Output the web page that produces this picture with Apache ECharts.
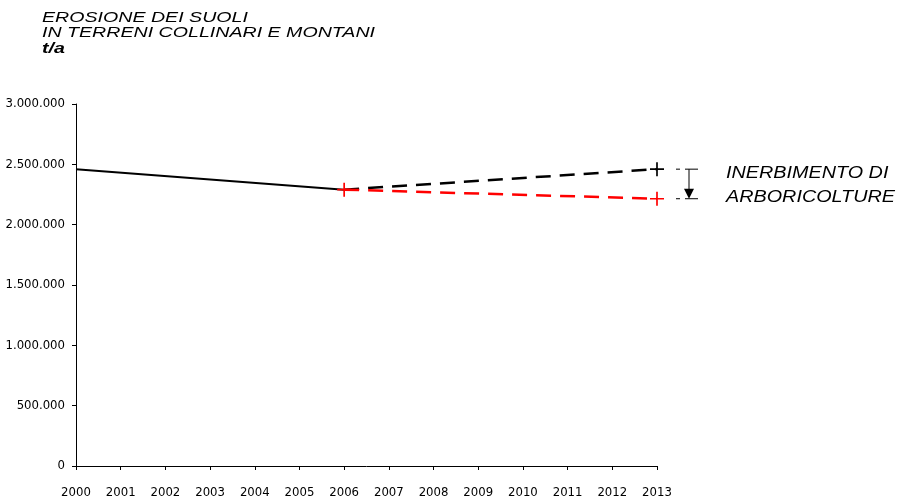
<!DOCTYPE html>
<html>
<head>
<meta charset="utf-8">
<script src="https://cdn.jsdelivr.net/npm/echarts@6/dist/echarts.min.js"></script>
<style>
  html, body { margin: 0; padding: 0; background: #fff; }
  #chart { width: 898px; height: 500px; }
</style>
</head>
<body>
<div id="chart"></div>
<script>
// Anni sull'asse orizzontale
const anni = ['2000', '2001', '2002', '2003', '2004', '2005', '2006',
              '2007', '2008', '2009', '2010', '2011', '2012', '2013'];

// Erosione storica (t/a), tratto continuo 2000-2006
const erosioneStorica = [2460000, null, null, null, null, null, 2290000,
                         null, null, null, null, null, null, null];

// Scenario senza interventi, tratteggio nero 2006-2013
const scenarioTendenziale = [null, null, null, null, null, null, 2290000,
                             null, null, null, null, null, null, 2460000];

// Scenario con inerbimento delle arboricolture, tratteggio rosso 2006-2013
const scenarioInerbimento = [null, null, null, null, null, null, 2290000,
                             null, null, null, null, null, null, 2215000];

// Etichette e testi
const titoloRighe = ['EROSIONE DEI SUOLI', 'IN TERRENI COLLINARI E MONTANI', 't/a'];
const notaRighe = ['INERBIMENTO DI', 'ARBORICOLTURE'];

const crocetta = 'path://M4.4,0 h1.2 v10 h-1.2 z M0,4.4 h10 v1.2 h-10 z';
const fontAssi = '"DejaVu Sans Condensed", "Liberation Sans Narrow", "Liberation Sans", sans-serif';
const fontTesti = '"Liberation Sans", Arial, sans-serif';

function migliaia(v) {
  return String(Math.round(v)).replace(/\B(?=(\d{3})+(?!\d))/g, '.');
}

// Larghezza naturale di un testo, per allargarlo alla misura voluta
const misuratore = document.createElement('canvas').getContext('2d');
function larghezza(testo, font) {
  misuratore.font = font;
  return misuratore.measureText(testo).width;
}

const chart = echarts.init(document.getElementById('chart'));

chart.setOption({
  backgroundColor: '#ffffff',
  animation: false,
  grid: { left: 76, right: 241, top: 104, bottom: 34, containLabel: false, outerBoundsMode: 'none' },
  xAxis: {
    type: 'category',
    data: anni,
    boundaryGap: false,
    axisLine: { lineStyle: { color: '#000', width: 1 } },
    axisTick: { show: true, length: 4, alignWithLabel: true, lineStyle: { color: '#000' } },
    axisLabel: {
      color: '#000', fontFamily: fontAssi, fontSize: 13, margin: 20,
      interval: 0
    },
    splitLine: { show: false }
  },
  yAxis: {
    type: 'value',
    min: 0, max: 3000000, interval: 500000,
    axisLine: { show: true, lineStyle: { color: '#000', width: 1 } },
    axisTick: { show: true, length: 4, lineStyle: { color: '#000' } },
    axisLabel: {
      color: '#000', fontFamily: fontAssi, fontSize: 13, margin: 11,
      formatter: migliaia
    },
    splitLine: { show: false }
  },
  series: [
    {
      name: 'Erosione', type: 'line', data: erosioneStorica,
      connectNulls: true, showSymbol: false, symbol: 'none',
      lineStyle: { color: '#000', width: 2 }, z: 3
    },
    {
      name: 'Tendenziale', type: 'line', data: scenarioTendenziale,
      connectNulls: true,
      symbol: function (v, p) { return p.dataIndex === 13 ? crocetta : 'none'; },
      symbolSize: 14,
      itemStyle: { color: '#000' },
      lineStyle: { color: '#000', width: 2.5, type: [15, 9] }, z: 3
    },
    {
      name: 'Inerbimento', type: 'line', data: scenarioInerbimento,
      connectNulls: true,
      symbol: crocetta, symbolSize: 14,
      itemStyle: { color: '#ff0000' },
      lineStyle: { color: '#ff0000', width: 2.5, type: [15, 9] }, z: 4
    }
  ]
});

// Titolo e nota a destra con la freccia che indica la riduzione
function disegnaTesti() {
  const pAlto = chart.convertToPixel({ xAxisIndex: 0, yAxisIndex: 0 }, [13, scenarioTendenziale[13]]);
  const pBasso = chart.convertToPixel({ xAxisIndex: 0, yAxisIndex: 0 }, [13, scenarioInerbimento[13]]);
  const xa = pAlto[0];
  const yTop = pAlto[1];
  const yBot = pBasso[1];
  const xf = xa + 32;

  const elementi = [];
  const fontTitolo = 'italic 14px "Liberation Sans"';
  const scalaTitolo = 333 / larghezza(titoloRighe[1], fontTitolo);
  titoloRighe.forEach(function (t, i) {
    elementi.push({
      type: 'text', x: 42, y: 18 + i * 15.5, scaleX: scalaTitolo,
      style: {
        text: t, fill: '#000', fontFamily: fontTesti, fontStyle: 'italic',
        fontWeight: i === 2 ? 'bold' : 'normal',
        fontSize: 14, verticalAlign: 'middle', align: 'left'
      }
    });
  });
  const fontNota = 'italic 17px "Liberation Sans"';
  const scalaNota = 169 / larghezza(notaRighe[1], fontNota);
  notaRighe.forEach(function (t, i) {
    elementi.push({
      type: 'text', x: 726, y: 173 + i * 24, scaleX: scalaNota,
      style: {
        text: t, fill: '#000', fontFamily: fontTesti, fontStyle: 'italic',
        fontSize: 17, verticalAlign: 'middle', align: 'left'
      }
    });
  });
  const nero = { stroke: '#000', lineWidth: 1 };
  elementi.push(
    { type: 'line', shape: { x1: xa + 19, y1: yTop, x2: xa + 23, y2: yTop }, style: nero },
    { type: 'line', shape: { x1: xa + 19, y1: yBot, x2: xa + 23, y2: yBot }, style: nero },
    { type: 'line', shape: { x1: xf - 4, y1: yTop, x2: xf + 9, y2: yTop }, style: nero },
    { type: 'line', shape: { x1: xf - 4, y1: yBot, x2: xf + 9, y2: yBot }, style: nero },
    { type: 'line', shape: { x1: xf, y1: yTop, x2: xf, y2: yBot - 8 }, style: nero },
    { type: 'polygon', shape: { points: [[xf - 5, yBot - 10], [xf + 5, yBot - 10], [xf, yBot]] },
      style: { fill: '#000' } }
  );
  chart.setOption({ graphic: elementi });
}
disegnaTesti();
</script>
</body>
</html>
